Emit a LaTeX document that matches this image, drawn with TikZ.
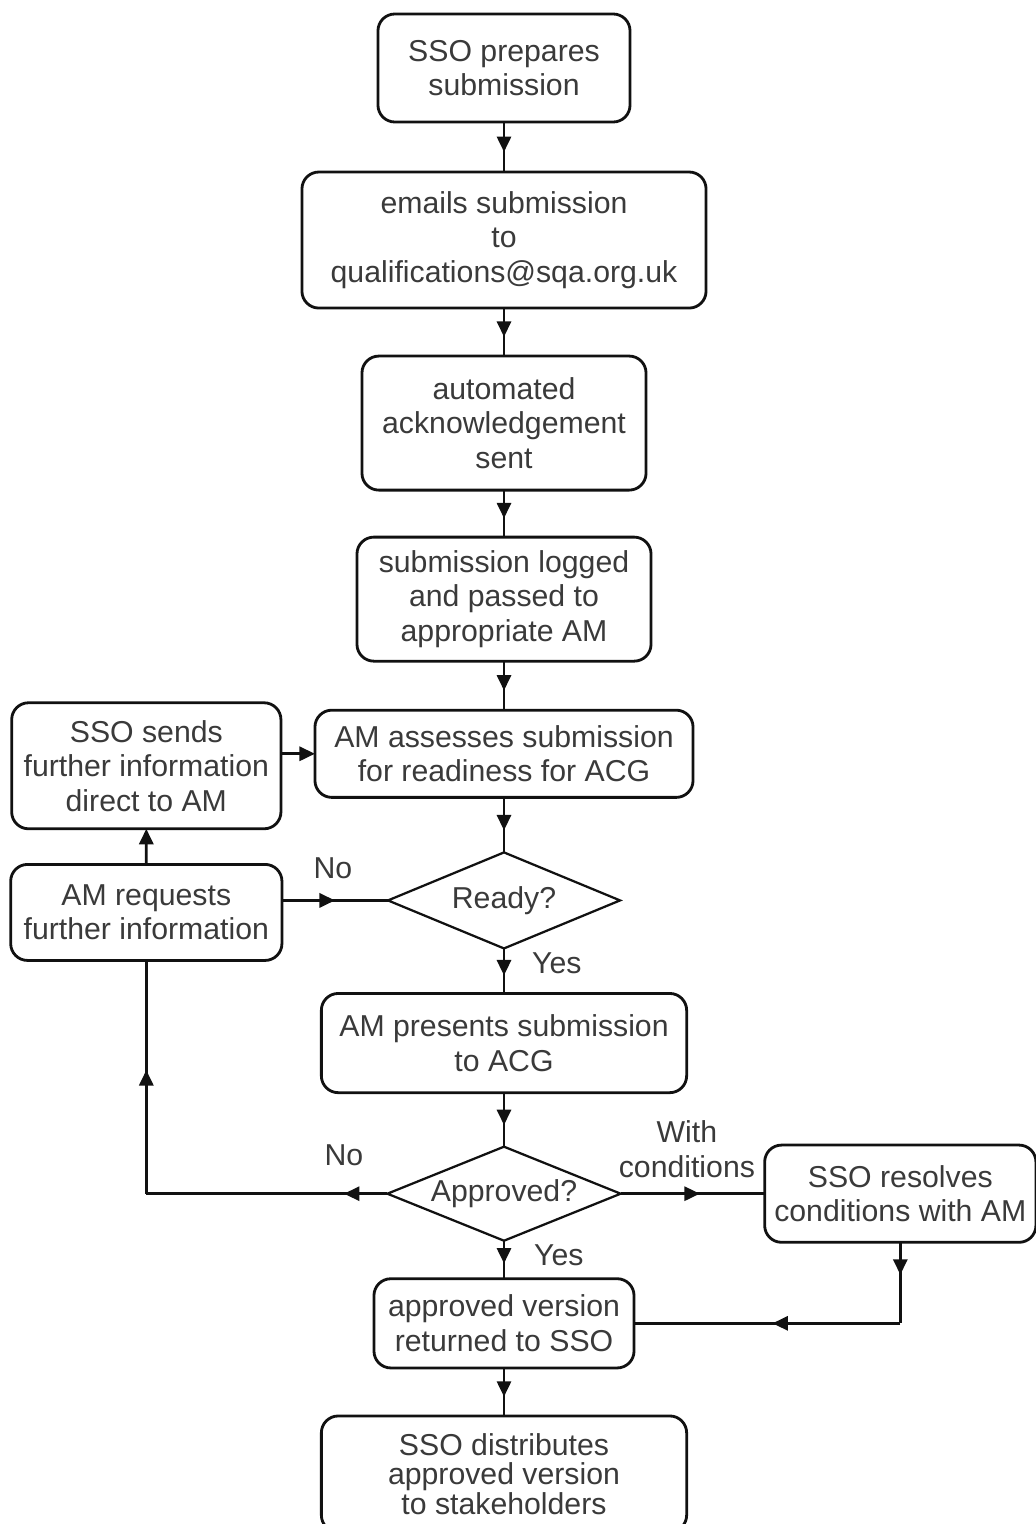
\documentclass[tikz,border=0pt]{standalone}
\usepackage{fontspec}
\setmainfont{Liberation Sans}
\usetikzlibrary{arrows.meta,positioning,shapes.geometric,decorations.markings}
\definecolor{ink}{HTML}{111111}
\definecolor{txt}{HTML}{3A3A3A}
\newcommand{\flowfont}{\fontsize{21.5}{24.5}\selectfont}

\begin{document}
\begin{tikzpicture}[
  x=0.025cm,y=-0.025cm,
  box/.style={rounded corners=12pt,draw=ink,line width=2pt,fill=white,align=center,inner sep=2pt,outer sep=0pt,text=txt,font=\flowfont},
  dec/.style={diamond,draw=ink,line width=1.6pt,fill=white,aspect=2.45,inner sep=0pt,outer sep=0pt,text=txt,font=\flowfont},
  lbl/.style={text=txt,font=\flowfont,align=center,inner sep=2pt},
  arr/.style={line width=2pt,draw=ink,decoration={markings,mark=at position #1 with {\arrow{Triangle[length=11pt,width=10pt]}}},postaction={decorate}},
  arr/.default=0.6,
  tip/.style={line width=2pt,draw=ink,-{Triangle[length=11pt,width=10pt]}}
]
\path[use as bounding box,fill=white] (0,0) rectangle (1036,1524);
\clip (0,0) rectangle (1036,1524);
% main column
\node[box,minimum width=6.3cm,minimum height=2.7cm] (prep) at (504,68) {SSO prepares\\submission};
\node[box,below=1.25cm of prep,minimum width=10.1cm,minimum height=3.4cm] (email) {emails submission\\to\\qualifications@sqa.org.uk};
\node[box,below=1.2cm of email,minimum width=7.1cm,minimum height=3.35cm] (ack) {automated\\acknowledgement\\sent};
\node[box,below=1.175cm of ack,minimum width=7.35cm,minimum height=3.1cm] (logged) {submission logged\\and passed to\\appropriate AM};
\node[box,below=1.225cm of logged,minimum width=9.45cm,minimum height=2.18cm] (assess) {AM assesses submission\\for readiness for ACG};
\node[dec,below=1.375cm of assess,minimum width=5.8cm,minimum height=2.4cm] (ready) {Ready?};
\node[box,below=1.125cm of ready,minimum width=9.13cm,minimum height=2.48cm] (present) {AM presents submission\\to ACG};
\node[dec,below=1.35cm of present,minimum width=5.83cm,minimum height=2.35cm] (approved) {Approved?};
\node[box,below=0.95cm of approved,minimum width=6.5cm,minimum height=2.23cm] (returned) {approved version\\returned to SSO};
\node[box,below=1.2cm of returned,minimum width=9.13cm,minimum height=2.9cm,font=\fontsize{21.5}{21}\selectfont] (distrib) {SSO distributes\\approved version\\to stakeholders};
% side boxes
\node[box,left=0.85cm of assess,yshift=-0.3cm,minimum width=6.73cm,minimum height=3.15cm] (sendinfo) {SSO sends\\further information\\direct to AM};
\node[box,left=2.65cm of ready,yshift=-0.3cm,minimum width=6.78cm,minimum height=2.4cm] (request) {AM requests\\further information};
\node[box,right=3.6cm of approved,minimum width=6.78cm,minimum height=2.43cm] (resolve) {SSO resolves\\conditions with AM};
\coordinate (nocorner) at (request.south |- approved.west);
\coordinate (condcorner) at (resolve.south |- returned.east);
% connectors
\draw[arr] (prep)--(email);
\draw[arr] (email)--(ack);
\draw[arr] (ack)--(logged);
\draw[arr] (logged)--(assess);
\draw[arr] (assess)--(ready);
\draw[arr] (ready)--node[lbl,pos=0.33,right=0.6cm]{Yes} (present);
\draw[arr] (present)--(approved);
\draw[arr] (approved)--node[lbl,pos=0.37,right=0.65cm]{Yes} (returned);
\draw[arr] (returned)--(distrib);
\draw[arr=0.5] (request.east |- ready.west)--node[lbl,pos=0.48,above=0.43cm]{No} (ready.west);
\draw[tip] (request)--(sendinfo);
\draw[tip] (sendinfo.east |- assess.west)--(assess.west);
\draw[arr=0.18] (approved.west)--node[lbl,pos=0.18,above=0.6cm]{No} (nocorner);
\draw[arr=0.53] (nocorner)--(request.south);
\draw[arr=0.55] (approved.east)--node[lbl,pos=0.46,above=0.3cm]{With\\conditions} (resolve.west);
\draw[arr=0.4] (resolve.south)--(condcorner);
\draw[arr=0.48] (condcorner)--(returned.east);
\end{tikzpicture}
\end{document}
